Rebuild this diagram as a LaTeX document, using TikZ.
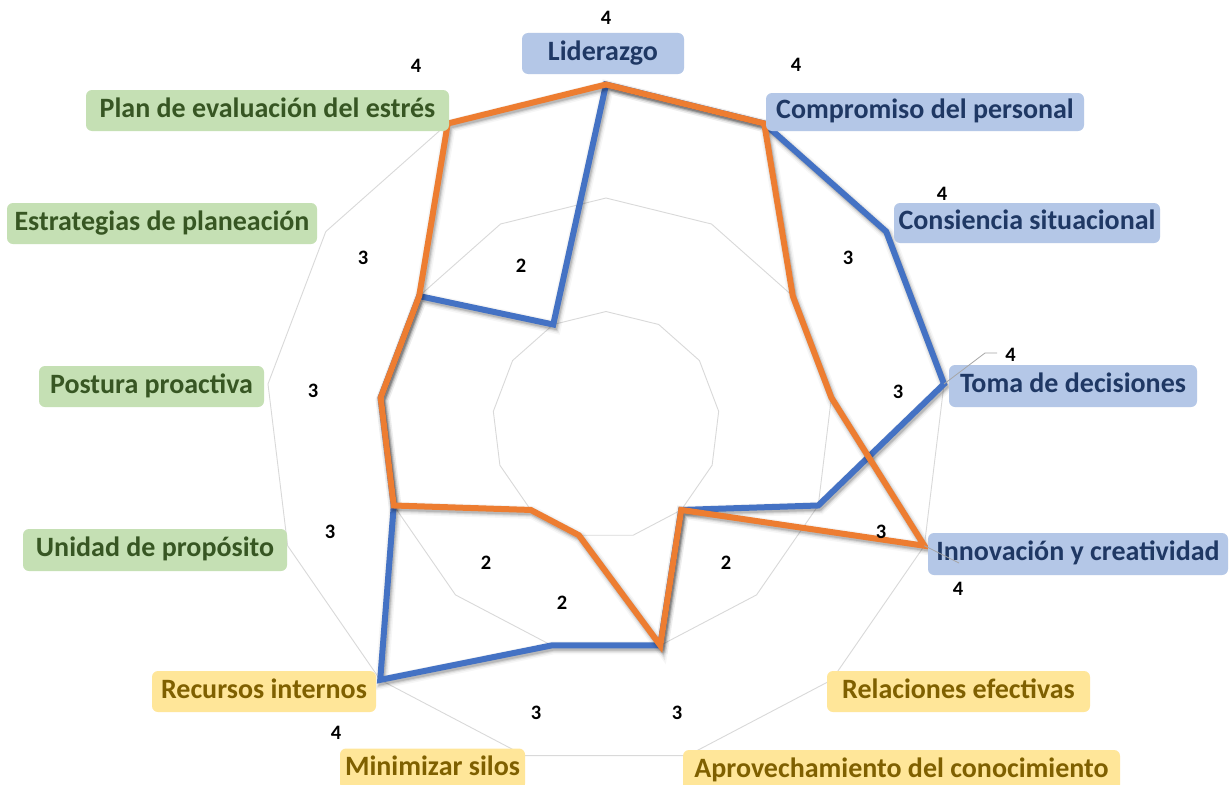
\documentclass[tikz,border=0pt]{standalone}
\usepackage{fontspec}
\setmainfont{Carlito}
\definecolor{serA}{HTML}{4472C4}
\definecolor{serB}{HTML}{ED7D31}
\definecolor{gridgray}{HTML}{D9D9D9}
\definecolor{leadgray}{HTML}{A6A6A6}
\definecolor{boxblue}{HTML}{B4C7E7}
\definecolor{txtblue}{HTML}{1F3864}
\definecolor{boxgreen}{HTML}{C5E0B4}
\definecolor{txtgreen}{HTML}{375623}
\definecolor{boxyellow}{HTML}{FFE699}
\definecolor{txtyellow}{HTML}{7F6000}
\begin{document}
\begin{tikzpicture}[x=1pt,y=-1pt,
  gridline/.style={draw=gridgray,line width=0.9pt},
  serline/.style={line width=6pt},
  leader/.style={draw=leadgray,line width=0.8pt},
  cat/.style={rounded corners=6pt,inner sep=0pt,minimum height=41pt,
    font=\bfseries\fontsize{28}{28}\selectfont,text height=18.2pt,text depth=5.2pt},
  catA/.style={cat,fill=boxblue,text=txtblue},
  catB/.style={cat,fill=boxgreen,text=txtgreen},
  catC/.style={cat,fill=boxyellow,text=txtyellow},
  numlab/.style={inner sep=0pt,font=\bfseries\fontsize{20.5}{20.5}\selectfont,
    text height=13pt,text depth=0pt,text=black}]
\useasboundingbox (0,0) rectangle (1230,784);
\clip (0,0) rectangle (1230,784);
\fill[white] (0,0) rectangle (1230,784);

\def\cx{606}
\def\cy{425}
\def\ru{113.5}

% concentric 13-gon grid (values 2, 3, 4)
\foreach \r in {1,2,3}{
  \draw[gridline] plot[samples at={0,...,12}]
    ({\cx+\r*\ru*sin(\x*360/13)},{\cy-\r*\ru*cos(\x*360/13)}) -- cycle;
}

% data points: index / first series / second series
\foreach \k/\va/\vb in {0/4/4,1/4/4,2/4/3,3/4/3,4/3/4,5/2/2,6/3/3,
                        7/3/2,8/4/2,9/3/3,10/3/3,11/3/3,12/2/4}{
  \coordinate (a\k) at ({\cx+(\va-1)*\ru*sin(\k*360/13)},{\cy-(\va-1)*\ru*cos(\k*360/13)});
  \coordinate (b\k) at ({\cx+(\vb-1)*\ru*sin(\k*360/13)},{\cy-(\vb-1)*\ru*cos(\k*360/13)});
}

% first series with its soft shadow
\begin{scope}[transform canvas={xshift=1.5pt,yshift=-2.5pt}]
  \foreach \w/\op in {13/0.035,10/0.06,7.5/0.09,5.5/0.12}{
    \draw[line width=\w pt,black,opacity=\op] (a0) \foreach \k in {1,...,12}{ -- (a\k)} -- cycle;
  }
\end{scope}
\draw[serline,serA] (a0) \foreach \k in {1,...,12}{ -- (a\k)} -- cycle;

% second series with its soft shadow
\begin{scope}[transform canvas={xshift=1.5pt,yshift=-2.5pt}]
  \foreach \w/\op in {13/0.035,10/0.06,7.5/0.09,5.5/0.12}{
    \draw[line width=\w pt,black,opacity=\op] (b0) \foreach \k in {1,...,12}{ -- (b\k)} -- cycle;
  }
\end{scope}
\draw[serline,serB] (b0) \foreach \k in {1,...,12}{ -- (b\k)} -- cycle;

% category labels
\node[catA,minimum width=162pt] (c0) at (603,53.5) {Liderazgo};
\node[catA,minimum width=318pt,minimum height=38pt] (c1) at (925,112) {Compromiso del personal};
\node[catA,minimum width=266pt,minimum height=40pt] (c2) at (1027,223) {Consiencia situacional};
\node[catA,minimum width=248pt,minimum height=42pt] (c3) at (1073,386) {Toma de decisiones};
\node[catA,minimum width=300pt,minimum height=42pt] (c4) at (1078,554) {Innovación y creatividad};
\node[catC,minimum width=263pt] (c5) at (958.5,691.5) {Relaciones efectivas};
\node[catC,minimum width=437pt] (c6) at (901.5,770.5) {Aprovechamiento del conocimiento};
\node[catC,minimum width=185pt] (c7) at (432.5,769) {Minimizar silos};
\node[catC,minimum width=224pt] (c8) at (264,691.5) {Recursos internos};
\node[catB,minimum width=264pt,minimum height=42pt] (c9) at (155,550) {Unidad de propósito};
\node[catB,minimum width=225pt] (c10) at (151.5,386.5) {Postura proactiva};
\node[catB,minimum width=310pt] (c11) at (162,223.5) {Estrategias de planeación};
\node[catB,minimum width=363pt] (c12) at (267.5,110.5) {Plan de evaluación del estrés};

% value labels
\node[numlab] (n0)  at (606,18)    {4};
\node[numlab] (n12) at (416,66)    {4};
\node[numlab] (n1)  at (796,65)    {4};
\node[numlab] (n2)  at (942,194)   {4};
\node[numlab] (n3)  at (1010.5,354.5) {4};
\node[numlab] (n4)  at (958,589)   {4};
\node[numlab] (n8)  at (336,733)   {4};
\node[numlab] (m11) at (363,258)   {3};
\node[numlab] (m10) at (313,391)   {3};
\node[numlab] (m9)  at (330,532)   {3};
\node[numlab] (m7)  at (536,713)   {3};
\node[numlab] (m6)  at (677,713)   {3};
\node[numlab] (m2)  at (848,258)   {3};
\node[numlab] (m3)  at (898,392)   {3};
\node[numlab] (m4)  at (881,532)   {3};
\node[numlab] (p12) at (521,266)   {2};
\node[numlab] (p8)  at (486,563)   {2};
\node[numlab] (p7)  at (562,603)   {2};
\node[numlab] (p5)  at (726,563)   {2};

% leader lines of displaced value labels
\coordinate (k3) at (985,353);
\coordinate (k3e) at (997,353);
\draw[leader] (a3) -- (k3) -- (k3e);
\coordinate (k4) at (959,563);
\draw[leader] (b4) -- (k4);
\end{tikzpicture}
\end{document}
